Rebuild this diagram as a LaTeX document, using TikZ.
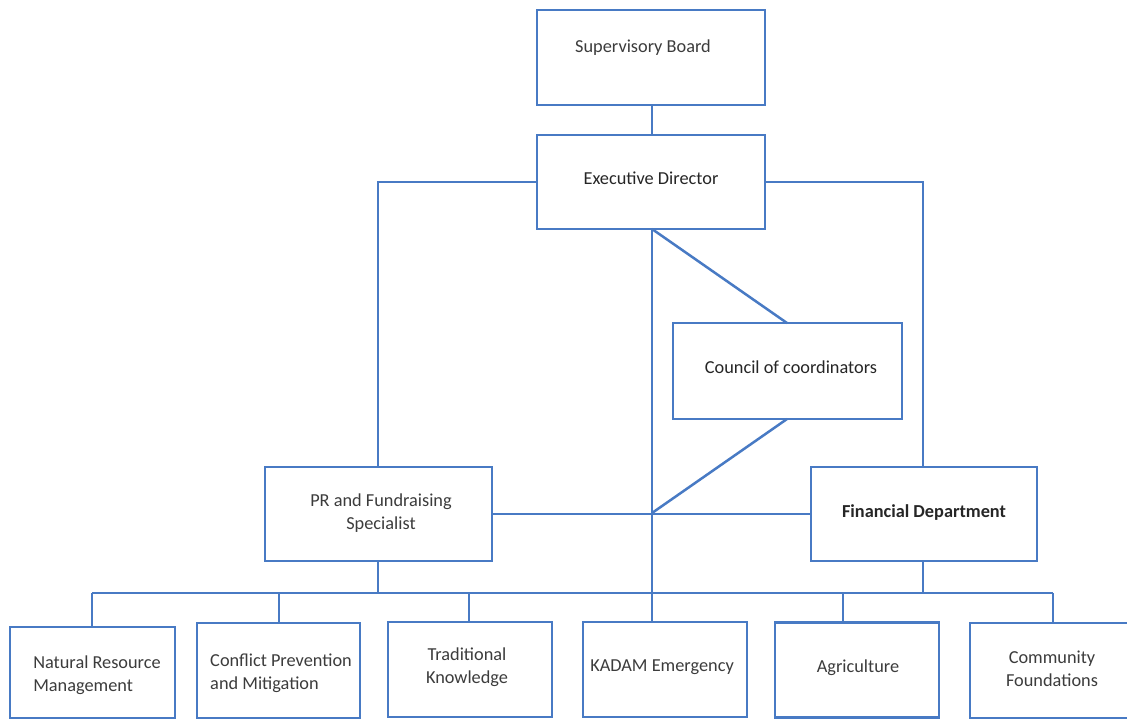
\documentclass[tikz,border=0pt]{standalone}
\usepackage{fontspec}
\setmainfont{Carlito}
\definecolor{lineblue}{RGB}{72,122,196}
\definecolor{txtgray}{RGB}{60,60,60}
\begin{document}
\begin{tikzpicture}[x=1pt,y=-1pt,
  box/.style={draw=lineblue,line width=2.8pt,rectangle,inner sep=0pt,fill=white},
  conn/.style={draw=lineblue,line width=2.5pt},
  lbl/.style={font=\fontsize{18.3}{23.5}\selectfont,text=txtgray,inner sep=0pt},
  lblk/.style={font=\fontsize{18.3}{23.5}\selectfont,text=black!85,inner sep=0pt}]
\useasboundingbox[fill=white] (0,0) rectangle (1127,721);
% boxes
\node[box,minimum width=228pt,minimum height=95pt] (sb) at (651,57.5) {};
\node[box,minimum width=228pt,minimum height=94pt] (ed) at (651,182) {};
\node[box,minimum width=229pt,minimum height=96pt] (cc) at (787.5,371) {};
\node[box,minimum width=227pt,minimum height=94pt] (pr) at (378.5,514) {};
\node[box,minimum width=226pt,minimum height=94pt] (fd) at (924,514) {};
\node[box,minimum width=165pt,minimum height=91pt] (nr) at (92.5,672.5) {};
\node[box,minimum width=163pt,minimum height=95pt] (cp) at (278.5,670.5) {};
\node[box,minimum width=164pt,minimum height=95pt] (tk) at (470,669.5) {};
\node[box,minimum width=164pt,minimum height=95pt] (ke) at (665,669.5) {};
\node[box,minimum width=164pt,minimum height=95pt] (ag) at (857,670) {};
\node[box,minimum width=170pt,minimum height=95pt] (cf) at (1055,670.5) {};
% junction coordinates
\coordinate (edb) at (652,229);
\coordinate (mid) at (652,513);
\coordinate (ccb) at (787,419);
\coordinate (cct) at (787,323);
\coordinate (edl) at (378,182);
\coordinate (edr) at (923,182);
\coordinate (barl) at (92,593);
\coordinate (barr) at (1053,593);
\coordinate (barc) at (652,593);
\coordinate (barpr) at (378,593);
\coordinate (barfd) at (923,593);
\coordinate (bcp) at (279,593);
\coordinate (btk) at (469,593);
\coordinate (bag) at (843,593);
% connectors
\draw[conn] (sb.south -| edb) -- (ed.north -| edb);
\draw[conn] (ed.west) -- (edl) -- (pr.north -| edl);
\draw[conn] (ed.east) -- (edr) -- (fd.north -| edr);
\draw[conn] (edb) -- (cct);
\draw[conn] (ccb) -- (mid);
\draw[conn] (edb) -- (mid) -- (barc) -- (ke.north -| barc);
\draw[conn] (pr.east) -- (fd.west);
\draw[conn] (pr.south -| barpr) -- (barpr);
\draw[conn] (fd.south -| barfd) -- (barfd);
\draw[conn] (barl) -- (barr);
\draw[conn] (barl) -- (nr.north -| barl);
\draw[conn] (bcp) -- (cp.north -| bcp);
\draw[conn] (btk) -- (tk.north -| btk);
\draw[conn] (bag) -- (ag.north -| bag);
\draw[conn] (barr) -- (cf.north -| barr);
% labels
\node[lbl] (sbt) at (643,48) {Supervisory Board};
\node[lblk] (edt) at (651,178) {Executive Director};
\node[lblk] (cct2) at (791,367) {Council of coordinators};
\node[lbl,align=center] (prt) at (381,513) {PR and Fundraising\\Specialist};
\node[lblk,font=\fontsize{18.3}{23.5}\selectfont\bfseries] (fdt) at (924,513) {Financial Department};
\node[lbl,align=left] (nrt) at (97,675) {Natural Resource\\Management};
\node[lbl,align=left] (cpt) at (281,673) {Conflict Prevention\\and Mitigation};
\node[lbl,align=center] (tkt) at (467,667) {Traditional\\Knowledge};
\node[lbl] (ket) at (662,667) {KADAM Emergency};
\node[lbl] (agt) at (858,668) {Agriculture};
\node[lbl,align=center] (cft) at (1052,669) {Community\\Foundations};
\end{tikzpicture}
\end{document}
